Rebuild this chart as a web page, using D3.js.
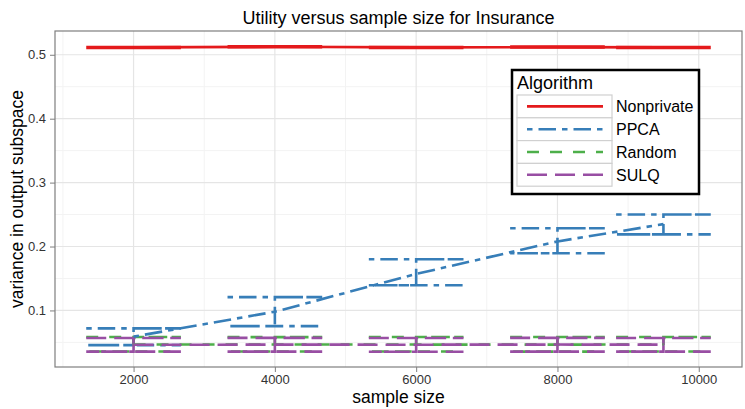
<!DOCTYPE html>
<html>
<head>
<meta charset="utf-8">
<script src="https://cdn.jsdelivr.net/npm/d3@7"></script>
<style>
  body { margin: 0; background: #fff; }
  svg { display: block; }
  svg text { font-family: 'Liberation Sans', Arial, sans-serif; }
</style>
</head>
<body>
<div id="chart"></div>
<script>
// sample sizes (x)
const sizes = [2000, 4000, 6000, 8000, 9500];

const algorithms = ['Nonprivate', 'PPCA', 'Random', 'SULQ'];

// mean variance per algorithm
const nonprivateMean = [0.5115, 0.5125, 0.5115, 0.512, 0.5115];
const ppcaMean = [0.059, 0.098, 0.157, 0.208, 0.235];
const randomMean = [0.0468, 0.0466, 0.0466, 0.0465, 0.0467];
const sulqMean = [0.0463, 0.0465, 0.0464, 0.0466, 0.0465];

// error bar bounds
const nonprivateLo = [0.5108, 0.5118, 0.5107, 0.5113, 0.5108];
const nonprivateHi = [0.5122, 0.5133, 0.5122, 0.5127, 0.5122];
const ppcaLo = [0.0458, 0.0755, 0.1395, 0.1895, 0.219];
const ppcaHi = [0.0719, 0.1208, 0.180, 0.2286, 0.250];
const randomLo = [0.0358, 0.0358, 0.0357, 0.0356, 0.0358];
const randomHi = [0.0585, 0.0583, 0.0584, 0.0585, 0.0584];
const sulqLo = [0.0355, 0.0355, 0.0354, 0.0355, 0.0355];
const sulqHi = [0.0568, 0.0570, 0.0569, 0.0570, 0.0569];

const xTicks = [2000, 4000, 6000, 8000, 10000];
const yTicks = [0.1, 0.2, 0.3, 0.4, 0.5];

const colors = ['#E41A1C', '#377EB8', '#4DAF4A', '#984EA3'];
const dashes = ['none', '5.5,6,17.5,6', '12,11', '20,8'];

const series = algorithms.map((name, i) => ({
  name: name,
  color: colors[i],
  dash: dashes[i],
  values: sizes.map((s, j) => ({
    x: s,
    y: [nonprivateMean, ppcaMean, randomMean, sulqMean][i][j],
    lo: [nonprivateLo, ppcaLo, randomLo, sulqLo][i][j],
    hi: [nonprivateHi, ppcaHi, randomHi, sulqHi][i][j]
  }))
}));

const W = 745, H = 409;
const margin = { t: 31, r: 3, b: 42, l: 55 };
const innerWidth = W - margin.l - margin.r;
const innerHeight = H - margin.t - margin.b;

const halfW = 670; // error bar half width, data units

// ggplot-like 5% expansion
const xMin = d3.min(sizes) - halfW, xMax = d3.max(sizes) + halfW;
const xPad = (xMax - xMin) * 0.05;
const x = d3.scaleLinear().domain([xMin - xPad, xMax + xPad]).range([0, innerWidth]);

const allVals = series.flatMap(s => s.values.flatMap(v => [v.lo, v.hi]));
const yMin = d3.min(allVals), yMax = d3.max(allVals);
const yPad = (yMax - yMin) * 0.05;
const y = d3.scaleLinear().domain([yMin - yPad, yMax + yPad]).range([innerHeight, 0]);

const svg = d3.select('#chart').append('svg')
  .attr('width', W)
  .attr('height', H);

const plot = svg.append('g')
  .attr('transform', `translate(${margin.l}, ${margin.t})`);

// minor grid
const xMinor = d3.range(1000, 10001, 2000);
const yMinor = d3.range(0.05, 0.5, 0.1);
plot.append('g').selectAll('line').data(xMinor).join('line')
  .attr('x1', d => x(d)).attr('x2', d => x(d))
  .attr('y1', 0).attr('y2', innerHeight)
  .attr('stroke', '#f3f3f3').attr('stroke-width', 1);
plot.append('g').selectAll('line').data(yMinor).join('line')
  .attr('x1', 0).attr('x2', innerWidth)
  .attr('y1', d => y(d)).attr('y2', d => y(d))
  .attr('stroke', '#f3f3f3').attr('stroke-width', 1);

// major grid
plot.append('g').selectAll('line').data(xTicks).join('line')
  .attr('x1', d => x(d)).attr('x2', d => x(d))
  .attr('y1', 0).attr('y2', innerHeight)
  .attr('stroke', '#e5e5e5').attr('stroke-width', 1.2);
plot.append('g').selectAll('line').data(yTicks).join('line')
  .attr('x1', 0).attr('x2', innerWidth)
  .attr('y1', d => y(d)).attr('y2', d => y(d))
  .attr('stroke', '#e5e5e5').attr('stroke-width', 1.2);

// error bars: ggplot path order (cap, stem, cap)
const ebPath = d3.line().x(d => x(d[0])).y(d => y(d[1]));
series.forEach(s => {
  plot.append('g').selectAll('path').data(s.values).join('path')
    .attr('d', v => ebPath([
      [v.x - halfW, v.hi], [v.x + halfW, v.hi], [v.x, v.hi],
      [v.x, v.lo], [v.x - halfW, v.lo], [v.x + halfW, v.lo]
    ]))
    .attr('fill', 'none')
    .attr('stroke', s.color)
    .attr('stroke-width', 2.6)
    .attr('stroke-dasharray', s.dash);
});

// mean lines
const line = d3.line().x(d => x(d.x)).y(d => y(d.y));
plot.append('g').selectAll('path').data(series).join('path')
  .attr('d', s => line(s.values))
  .attr('fill', 'none')
  .attr('stroke', s => s.color)
  .attr('stroke-width', 2.6)
  .attr('stroke-dasharray', s => s.dash);

// panel border
plot.append('rect')
  .attr('width', innerWidth).attr('height', innerHeight)
  .attr('fill', 'none').attr('stroke', '#7f7f7f').attr('stroke-width', 1.2);

// axes
const axisX = d3.axisBottom(x).tickValues(xTicks).tickFormat(d3.format('d')).tickSize(5).tickPadding(3);
const axisY = d3.axisLeft(y).tickValues(yTicks).tickFormat(d3.format('.1f')).tickSize(5).tickPadding(4);

const gx = plot.append('g')
  .attr('transform', `translate(0, ${innerHeight})`)
  .call(axisX);
const gy = plot.append('g').call(axisY);
[gx, gy].forEach(g => {
  g.select('.domain').remove();
  g.attr('font-size', null).attr('font-family', null);
  g.selectAll('.tick line').attr('stroke', '#7f7f7f');
  g.selectAll('.tick text')
    .attr('fill', '#333')
    .style('font-size', '13px');
});

// titles
svg.append('text')
  .attr('x', margin.l + innerWidth / 2)
  .attr('y', 24)
  .attr('text-anchor', 'middle')
  .style('font-size', '18px')
  .text('Utility versus sample size for Insurance');

svg.append('text')
  .attr('x', margin.l + innerWidth / 2)
  .attr('y', 403)
  .attr('text-anchor', 'middle')
  .style('font-size', '17.5px')
  .text('sample size');

svg.append('text')
  .attr('transform', `translate(23, ${margin.t + innerHeight / 2}) rotate(-90)`)
  .attr('text-anchor', 'middle')
  .style('font-size', '17.5px')
  .text('variance in output subspace');

// legend
const lg = svg.append('g').attr('transform', 'translate(512, 70)');
lg.append('rect')
  .attr('width', 187).attr('height', 124)
  .attr('fill', '#fff').attr('stroke', '#000').attr('stroke-width', 2.5);
lg.append('text')
  .attr('x', 5).attr('y', 19)
  .style('font-size', '18px')
  .text('Algorithm');

const rowH = 22.8;
const keyW = 95;
const rows = lg.selectAll('.row').data(series).join('g')
  .attr('class', 'row')
  .attr('transform', (d, i) => `translate(5, ${25 + i * rowH})`);
rows.append('rect')
  .attr('width', keyW).attr('height', rowH)
  .attr('fill', '#fff').attr('stroke', '#d0d0d0').attr('stroke-width', 1.2);
rows.append('line')
  .attr('x1', 10).attr('x2', 86)
  .attr('y1', rowH / 2).attr('y2', rowH / 2)
  .attr('stroke', d => d.color)
  .attr('stroke-width', 2.6)
  .attr('stroke-dasharray', d => d.dash);
rows.append('text')
  .attr('x', keyW + 4).attr('y', rowH / 2 + 6)
  .style('font-size', '16px')
  .text(d => d.name);
</script>
</body>
</html>
